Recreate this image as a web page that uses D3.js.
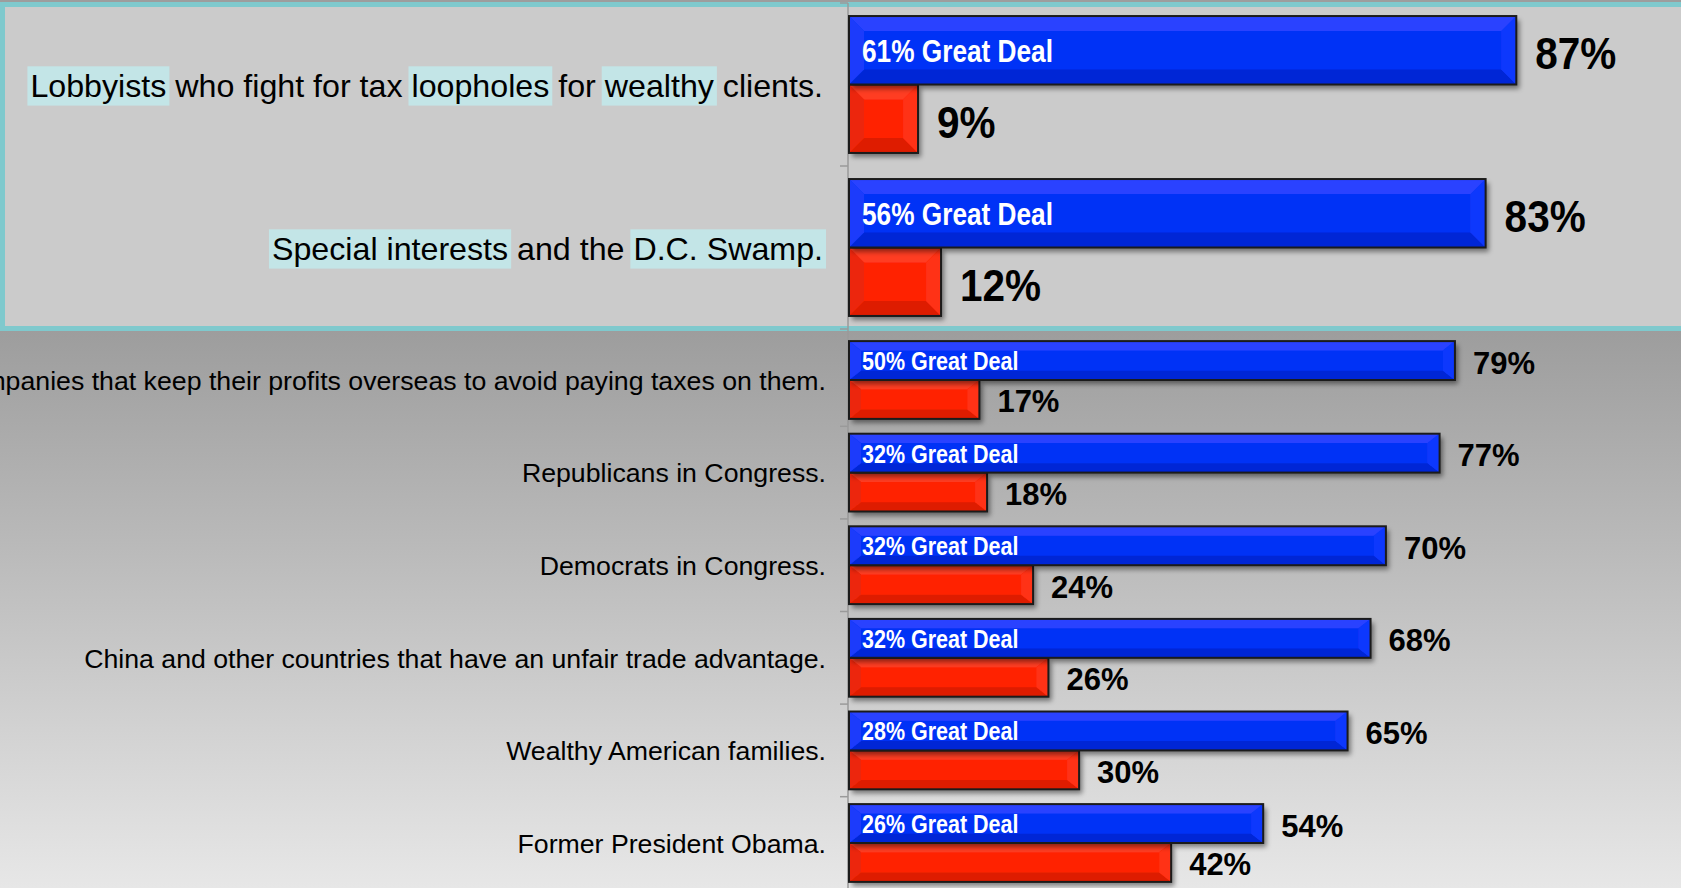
<!DOCTYPE html>
<html>
<head>
<meta charset="utf-8">
<script src="https://cdn.jsdelivr.net/npm/d3@7"></script>
<style>
  html, body { margin: 0; padding: 0; overflow: hidden; background: #cccccc; }
  svg { display: block; }
  text { font-family: "Liberation Sans", Arial, Helvetica, sans-serif; }
</style>
</head>
<body>
<script>
// ---------------- DATA ----------------
const categories = [
  "Lobbyists who fight for tax loopholes for wealthy clients.",
  "Special interests and the D.C. Swamp.",
  "Companies that keep their profits overseas to avoid paying taxes on them.",
  "Republicans in Congress.",
  "Democrats in Congress.",
  "China and other countries that have an unfair trade advantage.",
  "Wealthy American families.",
  "Former President Obama."
];
const blameTotal = [87, 83, 79, 77, 70, 68, 65, 54];      // blue bars
const greatDeal  = [61, 56, 50, 32, 32, 32, 28, 26];      // label inside blue bars
const notBlame   = [9, 12, 17, 18, 24, 26, 30, 42];       // red bars
const highlighted = [
  ["Lobbyists", "loopholes", "wealthy"],
  ["Special interests", "D.C. Swamp."]
];
const zoomedCount = 2; // first categories shown enlarged in the highlight box

// ---------------- LAYOUT / STYLE ----------------
const W = 1681, H = 888;
const svg = d3.select("body").append("svg").attr("width", W).attr("height", H);
const defs = svg.append("defs");

const bg = defs.append("linearGradient").attr("id", "bgGrad")
  .attr("x1", 0).attr("y1", 0).attr("x2", 0).attr("y2", 1);
bg.append("stop").attr("offset", "0%").attr("stop-color", "#9d9d9d");
bg.append("stop").attr("offset", "100%").attr("stop-color", "#e7e7e7");

const f = defs.append("filter").attr("id", "shadow")
  .attr("x", "-5%").attr("y", "-20%").attr("width", "120%").attr("height", "160%");
f.append("feDropShadow").attr("dx", 3).attr("dy", 4).attr("stdDeviation", 2.5)
  .attr("flood-color", "#000").attr("flood-opacity", 0.45);

// background
svg.append("rect").attr("x", 0).attr("y", 0).attr("width", W).attr("height", 4).attr("fill", "#9d9d9d");
svg.append("rect").attr("x", 0).attr("y", 330).attr("width", W).attr("height", H - 330).attr("fill", "url(#bgGrad)");

// highlight box
svg.append("rect").attr("x", 2.5).attr("y", 4.5).attr("width", W + 20).attr("height", 324)
  .attr("fill", "#cbcbcb").attr("stroke", "#7fc9cd").attr("stroke-width", 5);

// scales
const x = d3.scaleLinear().domain([0, 100]).range([849, 1616]);
const topCats = categories.slice(0, zoomedCount);
const botCats = categories.slice(zoomedCount);
const yTop = d3.scaleBand().domain(topCats).range([3, 329]);
const yBot = d3.scaleBand().domain(botCats).range([333.7, 889.3]);

const sections = [
  { cats: topCats, y: yTop, offset: 0,
    labelSize: 32.2, labelX: 823, labelDy: 0.375,
    valueSize: 45, valueSx: 0.9, valueGap: 19,
    innerSize: 32, innerSx: 0.82, innerDy: 0.375,
    bevelY: 0.22, bevelX: 15 },
  { cats: botCats, y: yBot, offset: zoomedCount,
    labelSize: 26.7, labelX: 826, labelDy: 0.37,
    valueSize: 31, valueSx: 1.0, valueGap: 18,
    innerSize: 25, innerSx: 0.86, innerDy: 0.38,
    bevelY: 0.24, bevelX: 12 }
];
const groupFrac = 0.84;

const blueC = { main: "#0432f6", top: "#2a42ff", bottom: "#0327d6", left: "#1a3bfb", right: "#1038fd" };
const redC  = { main: "#ff2300", top: "#ff3c24", bottom: "#de1f00", left: "#ec2608", right: "#ff3014" };

// axis line + ticks
const axisG = svg.append("g");
axisG.append("line").attr("x1", 848).attr("x2", 848).attr("y1", 3).attr("y2", H)
  .attr("stroke", "#9a9a9a").attr("stroke-width", 1.5);
const tickYs = [yTop.range()[0]].concat(topCats.map(c => yTop(c) + yTop.bandwidth()))
  .concat(botCats.slice(0, -1).map(c => yBot(c) + yBot.bandwidth()));
axisG.selectAll(".tk").data(tickYs).join("line")
  .attr("x1", 840).attr("x2", 848).attr("y1", d => d).attr("y2", d => d)
  .attr("stroke", "#9a9a9a").attr("stroke-width", 1.5);

function bevelBar(g, x0, y0, w, h, c, s) {
  const b = h * s.bevelY;
  const bx = Math.min(s.bevelX, w / 3);
  const bar = g.append("g").attr("filter", "url(#shadow)");
  bar.append("rect").attr("x", x0).attr("y", y0).attr("width", w).attr("height", h).attr("fill", c.main);
  const polys = [
    [[x0, y0], [x0 + w, y0], [x0 + w - bx, y0 + b], [x0 + bx, y0 + b], c.top],
    [[x0, y0 + h], [x0 + w, y0 + h], [x0 + w - bx, y0 + h - b], [x0 + bx, y0 + h - b], c.bottom],
    [[x0, y0], [x0 + bx, y0 + b], [x0 + bx, y0 + h - b], [x0, y0 + h], c.left],
    [[x0 + w, y0], [x0 + w - bx, y0 + b], [x0 + w - bx, y0 + h - b], [x0 + w, y0 + h], c.right]
  ];
  polys.forEach(p => {
    bar.append("polygon").attr("points", p.slice(0, 4).map(q => q.join(",")).join(" ")).attr("fill", p[4]);
  });
  g.append("rect").attr("x", x0).attr("y", y0).attr("width", w).attr("height", h)
    .attr("fill", "none").attr("stroke", "#1b1b1b").attr("stroke-width", 2);
}

sections.forEach(s => {
  const step = s.y.bandwidth();
  const gh = step * groupFrac;
  const bh = gh / 2;
  s.cats.forEach((cat, j) => {
    const i = j + s.offset;
    const cy = s.y(cat) + step / 2;
    const g = svg.append("g");

    // category label with optional highlights
    const hlG = g.append("g");
    const t = g.append("text")
      .attr("x", s.labelX).attr("y", cy + s.labelDy * s.labelSize)
      .attr("text-anchor", "end").attr("font-size", s.labelSize).attr("fill", "#000")
      .text(cat);
    (highlighted[i] || []).forEach(word => {
      const idx = cat.indexOf(word);
      if (idx < 0) return;
      const node = t.node();
      const sx = node.getStartPositionOfChar(idx).x;
      const wd = node.getSubStringLength(idx, word.length);
      hlG.append("rect")
        .attr("x", sx - 3).attr("width", wd + 6)
        .attr("y", cy + s.labelDy * s.labelSize - 0.94 * s.labelSize)
        .attr("height", 1.22 * s.labelSize)
        .attr("fill", "#c3e5e7");
    });

    const yBlue = cy - gh / 2;
    const yRed = cy;
    // red first so the blue outline sits on top of shared edge
    bevelBar(g, x(0), yRed, x(notBlame[i]) - x(0), bh, redC, s);
    bevelBar(g, x(0), yBlue, x(blameTotal[i]) - x(0), bh, blueC, s);

    // inside label
    g.append("text")
      .attr("transform", `translate(${x(0) + 13},${yBlue + bh / 2 + s.innerDy * s.innerSize}) scale(${s.innerSx},1)`)
      .attr("font-size", s.innerSize).attr("font-weight", "bold").attr("fill", "#ffffff")
      .text(`${greatDeal[i]}% Great Deal`);

    // value labels
    g.append("text")
      .attr("transform", `translate(${x(blameTotal[i]) + s.valueGap},${yBlue + bh / 2 + 0.42 * s.valueSize}) scale(${s.valueSx},1)`)
      .attr("font-size", s.valueSize).attr("font-weight", "bold").attr("fill", "#000")
      .text(`${blameTotal[i]}%`);
    g.append("text")
      .attr("transform", `translate(${x(notBlame[i]) + s.valueGap},${yRed + bh / 2 + 0.42 * s.valueSize}) scale(${s.valueSx},1)`)
      .attr("font-size", s.valueSize).attr("font-weight", "bold").attr("fill", "#000")
      .text(`${notBlame[i]}%`);
  });
});
</script>
</body>
</html>
